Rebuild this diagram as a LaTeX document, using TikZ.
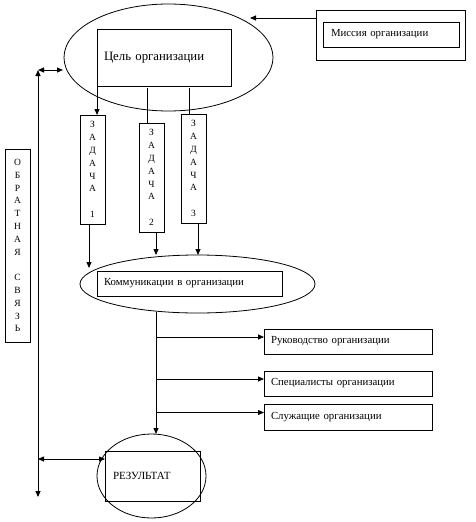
\documentclass[tikz,border=0pt]{standalone}
\usepackage{fontspec}
\setmainfont{Liberation Serif}
\usetikzlibrary{arrows.meta,shapes.geometric}
\begin{document}
\begin{tikzpicture}[x=1pt,y=-1pt,
  every node/.style={inner sep=0pt, outer sep=0pt},
  line/.style={draw, line width=0.8pt},
  arr/.style={line, -{Triangle[length=6pt,width=5pt]}},
  darr/.style={line, {Triangle[length=6pt,width=5pt]}-{Triangle[length=6pt,width=5pt]}},
  box/.style={draw, line width=0.8pt, anchor=north west, font=\fontsize{10.8}{12}\selectfont},
  lbox/.style={box, align=left, inner xsep=7pt},
  vbox/.style={box, align=center, font=\fontsize{9.5}{12.8}\selectfont},
  oval/.style={draw, ellipse, line width=0.8pt, inner sep=0pt}
]
\useasboundingbox (0,0) rectangle (475,522);
% top ellipse and goal
\node[oval, minimum width=209pt, minimum height=107pt] (topE) at (168.5,57.5) {};
\node[lbox, minimum width=134pt, minimum height=57pt, text width=120pt, font=\fontsize{12.8}{14}\selectfont] (goal) at (97,29) {Цель организации};
% mission
\node[box, minimum width=149pt, minimum height=50pt] (misO) at (316,10) {};
\node[lbox, minimum width=134pt, minimum height=25pt, text width=120pt, inner xsep=8pt] (misI) at (323,22) {Миссия организации};
\coordinate (mt) at (250,18);
\draw[arr] (misO.west |- mt) -- (mt);
% tasks
\node[vbox, minimum width=25pt, minimum height=109pt, text width=25pt] (z1) at (80,115) {З\\А\\Д\\А\\Ч\\А\\[12.8pt]1};
\node[vbox, minimum width=25pt, minimum height=109pt, text width=25pt] (z2) at (139,123) {З\\А\\Д\\А\\Ч\\А\\[12.8pt]2};
\node[vbox, minimum width=25pt, minimum height=109pt, text width=25pt] (z3) at (181,114) {З\\А\\Д\\А\\Ч\\А\\[12.8pt]3};
\draw[arr] (goal.south west) -- (goal.south west |- z1.north);
\draw[line] ([xshift=-4.5pt]z2.north) -- ([xshift=-4.5pt,yshift=-2pt]z2.north |- goal.south);
\draw[line] ([xshift=-4.5pt]z3.north) -- ([xshift=-4.5pt,yshift=-2pt]z3.north |- goal.south);
% communications
\node[oval, minimum width=235pt, minimum height=58pt] (commE) at (197.5,284) {};
\node[lbox, minimum width=185pt, minimum height=25pt, text width=171pt] (comm) at (97,271) {Коммуникации в организации};
\coordinate (c1) at (89,268);
\draw[arr] ([xshift=-3.5pt]z1.south) -- (c1);
\draw[arr] ([xshift=4.5pt]z2.south) -- ([xshift=4.5pt]z2.south |- commE.north);
\draw[arr] ([xshift=4.5pt]z3.south) -- ([xshift=4.5pt]z3.south |- commE.north);
% feedback
\node[vbox, minimum width=25pt, minimum height=193pt, text width=25pt] (fb) at (5,149) {О\\Б\\Р\\А\\Т\\Н\\А\\Я\\[12.8pt]С\\В\\Я\\З\\Ь};
% staff boxes
\node[lbox, minimum width=168pt, minimum height=25pt, text width=154pt] (ruk) at (264,329) {Руководство организации};
\node[lbox, minimum width=168pt, minimum height=25pt, text width=154pt] (spe) at (264,371) {Специалисты организации};
\node[lbox, minimum width=168pt, minimum height=26pt, text width=154pt] (slu) at (264,404) {Служащие организации};
% result
\node[oval, minimum width=109pt, minimum height=84pt] (resE) at (151.5,476) {};
\node[lbox, minimum width=93pt, minimum height=50pt, text width=79pt, inner xsep=8pt, font=\fontsize{11}{12}\selectfont] (res) at (105,451) {РЕЗУЛЬТАТ};
% trunk
\coordinate (trunk) at (156,312);
\draw[arr] (trunk) -- (trunk |- resE.north);
\draw[arr] (trunk |- ruk.west) ++(0,-4.5) -- ([yshift=4.5pt]ruk.west);
\draw[arr] (trunk |- spe.west) ++(0,-4.5) -- ([yshift=4.5pt]spe.west);
\draw[arr] (trunk |- slu.west) ++(0,-4.5) -- ([yshift=4.5pt]slu.west);
% feedback line
\coordinate (fbt) at (38,70);
\coordinate (fbb) at (38,497);
\coordinate (fbe) at (63,70);
\draw[darr] (fbb) -- (fbt);
\draw[darr] (fbt) -- (fbe);
\coordinate (fbr) at (38,459);
\draw[darr] (fbr) -- (res.west |- fbr);
\end{tikzpicture}
\end{document}
